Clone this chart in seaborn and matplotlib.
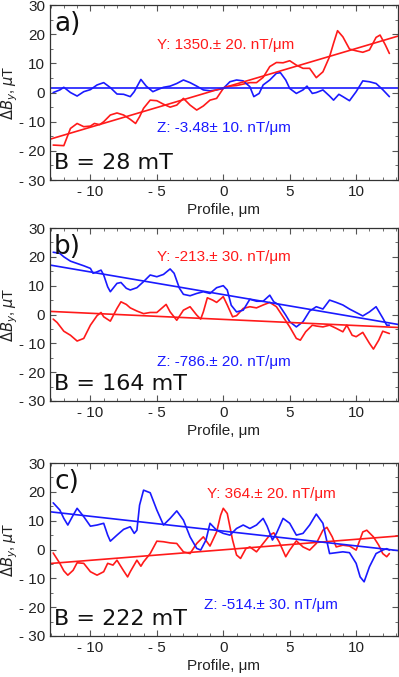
import numpy as np
import pandas as pd
import seaborn as sns
import matplotlib.pyplot as plt
from matplotlib.ticker import MultipleLocator, FuncFormatter

# panel a (B = 28 mT)
a_y_x = [-12.8, -12.0, -11.5, -11.0, -10.5, -10.0, -9.7, -9.3, -9.0, -8.5, -8.0, -7.5, -7.0, -6.6, -6.3, -6.0,
         -5.5, -5.0, -4.5, -4.0, -3.5, -3.0, -2.5, -2.0, -1.5, -1.0, -0.5, 0.0, 0.5, 1.0, 1.5, 2.0, 2.5, 3.0,
         3.5, 4.0, 4.5, 5.0, 5.5, 6.0, 6.5, 7.0, 7.5, 8.0, 8.3, 8.6, 9.0, 9.5, 10.0, 10.5, 11.0, 11.5, 11.8,
         12.2, 12.5]
a_y_v = [-18.0, -18.2, -12.3, -10.6, -11.7, -11.5, -10.6, -11.0, -10.0, -7.7, -7.0, -7.7, -9.2, -10.6, -8.3, -5.4,
         -2.6, -2.8, -4.0, -5.0, -4.3, -2.0, -4.3, -6.0, -4.6, -2.6, -2.0, 1.4, 2.2, 2.4, 2.9, 3.4, 3.4, 5.2,
         8.9, 10.3, 10.2, 10.9, 9.4, 8.3, 8.3, 5.1, 7.1, 12.3, 16.9, 21.2, 19.1, 14.9, 14.3, 13.8, 14.6, 18.9, 19.7,
         16.3, 13.4]
a_z_x = [-12.8, -12.3, -12.0, -11.5, -11.0, -10.5, -10.0, -9.5, -9.0, -8.5, -8.0, -7.5, -7.0, -6.7, -6.2, -5.8,
         -5.3, -5.0, -4.5, -4.0, -3.5, -3.0, -2.5, -2.0, -1.5, -1.0, -0.5, 0.0, 0.5, 1.0, 1.5, 2.0, 2.3, 2.7,
         3.0, 3.5, 4.0, 4.3, 4.7, 5.0, 5.5, 6.0, 6.3, 6.7, 7.0, 7.5, 8.0, 8.3, 8.7, 9.0, 9.5, 10.0, 10.5, 11.0,
         11.5, 12.0, 12.5]
a_z_v = [0.0, 0.9, 1.8, 0.0, -1.2, 0.3, 1.0, 2.6, 3.4, 1.7, -0.5, -0.6, -1.4, 0.3, 4.5, 2.2,
         0.3, 0.9, 1.8, 2.2, 3.1, 4.3, 3.4, 2.2, 0.9, 0.6, 0.9, 1.4, 3.7, 4.3, 4.0, 2.0, -1.4, -0.3,
         2.6, 4.3, 6.6, 6.8, 4.3, 1.4, -0.3, 0.9, 2.2, -0.3, 0.0, 0.9, -1.2, -2.6, -0.6, -1.4, -2.8, 0.3, 4.0, 3.7,
         3.1, 1.0, -1.4]

# panel b (B = 164 mT)
b_y_x = [-12.8, -12.5, -12.0, -11.5, -11.0, -10.5, -10.0, -9.5, -9.2, -9.0, -8.5, -8.0, -7.7, -7.3, -7.0, -6.5,
         -6.0, -5.5, -5.0, -4.5, -4.3, -4.0, -3.5, -3.0, -2.5, -2.0, -1.7, -1.5, -1.2, -0.8, -0.5, 0.0, 0.3, 0.7,
         1.0, 1.5, 2.0, 2.5, 3.0, 3.5, 4.0, 4.5, 5.0, 5.5, 5.8, 6.2, 6.7, 7.0, 7.5, 8.0, 8.5, 9.0, 9.3, 9.7,
         10.0, 10.5, 11.0, 11.3, 11.7, 12.0, 12.5]
b_y_v = [-1.6, -2.8, -5.8, -7.2, -9.2, -8.3, -3.7, -0.4, 0.7, -0.8, -2.3, 2.1, 4.4, 3.5, 2.3, 1.2,
         0.3, 0.7, 0.7, 2.7, 3.5, 0.9, -2.0, 1.5, 2.7, -0.2, -1.6, 0.9, 5.8, 5.0, 4.2, 6.2, 3.3, -0.8,
         -0.4, 2.1, 2.7, 2.3, 3.3, 4.2, 2.7, -0.8, -4.3, -8.3, -8.9, -6.0, -3.7, -4.0, -4.3, -3.7, -4.8, -6.0, -3.7, -7.2,
         -7.7, -6.2, -10.0, -12.0, -8.9, -5.8, -6.6]
b_z_x = [-12.8, -12.3, -12.0, -11.5, -11.0, -10.5, -10.0, -9.8, -9.5, -9.2, -9.0, -8.7, -8.5, -8.0, -7.7, -7.3,
         -7.0, -6.5, -6.0, -5.5, -5.0, -4.5, -4.0, -3.7, -3.3, -3.0, -2.5, -2.0, -1.5, -1.0, -0.5, 0.0, 0.3, 0.6,
         1.0, 1.5, 2.0, 2.5, 3.0, 3.5, 3.8, 4.2, 4.7, 5.0, 5.5, 6.0, 6.5, 7.0, 7.5, 8.0, 8.5, 9.0, 9.5, 10.0,
         10.5, 11.0, 11.5, 12.0, 12.3, 12.5]
b_z_v = [21.6, 21.2, 20.0, 18.5, 17.7, 16.9, 16.0, 14.3, 14.8, 15.4, 13.7, 9.6, 7.9, 10.8, 11.1, 9.1,
         8.5, 9.3, 11.4, 13.7, 13.1, 13.9, 15.8, 14.3, 9.1, 7.0, 6.5, 7.3, 7.9, 7.3, 9.3, 10.0, 8.5, 3.2,
         0.9, 1.5, 5.3, 4.6, 4.6, 6.7, 4.4, 3.3, -0.2, -2.5, -4.3, -2.5, 1.2, 2.7, 1.9, 5.0, 4.2, 3.3, 1.9, 0.7,
         -0.5, 0.9, 2.7, -1.2, -3.7, -3.7]

# panel c (B = 222 mT)
c_y_x = [-12.8, -12.3, -12.0, -11.7, -11.3, -11.0, -10.5, -10.0, -9.5, -9.0, -8.7, -8.3, -8.0, -7.5, -7.2, -7.0,
         -6.5, -6.2, -6.0, -5.5, -5.0, -4.5, -4.0, -3.5, -3.0, -2.5, -2.0, -1.5, -1.0, -0.5, -0.2, 0.0, 0.3, 0.7,
         1.0, 1.3, 1.7, 2.0, 2.5, 3.0, 3.5, 3.8, 4.2, 4.7, 5.0, 5.5, 6.0, 6.5, 7.0, 7.5, 7.8, 8.2, 8.5, 9.0,
         9.5, 10.0, 10.5, 10.8, 11.3, 11.7, 12.0, 12.3, 12.5]
c_y_v = [-1.2, -4.8, -7.4, -8.9, -7.2, -4.6, -4.8, -7.7, -8.9, -7.7, -4.8, -5.4, -3.7, -7.4, -9.5, -7.7,
         -3.7, -5.8, -4.3, -1.4, 2.9, 2.7, 2.3, 2.1, -0.8, -1.4, 2.1, 4.4, 1.2, 6.1, 11.9, 14.3, 12.5, 3.3,
         -1.9, -3.1, 0.3, 0.9, -0.8, 2.1, 5.0, 5.8, 2.7, -2.5, -0.2, 3.0, 0.9, -0.2, 2.1, 6.7, 7.7, 4.4, 0.9, 1.5,
         1.2, -0.2, 6.1, 6.7, 4.4, 1.5, -1.4, -2.5, -1.4]
c_z_x = [-12.8, -12.3, -12.0, -11.7, -11.3, -11.0, -10.5, -10.0, -9.5, -9.0, -8.7, -8.5, -8.0, -7.5, -7.0, -6.7,
         -6.5, -6.3, -6.0, -5.5, -5.0, -4.5, -4.0, -3.5, -3.0, -2.5, -2.0, -1.7, -1.3, -1.0, -0.5, 0.0, 0.5, 1.0,
         1.5, 2.0, 2.5, 3.0, 3.3, 3.7, 4.0, 4.5, 5.0, 5.5, 6.0, 6.5, 7.0, 7.5, 8.0, 8.5, 9.0, 9.5, 10.0, 10.3,
         10.6, 11.0, 11.5, 12.0, 12.3, 12.5]
c_z_v = [16.2, 13.7, 10.8, 8.5, 11.9, 14.3, 11.4, 8.1, 8.5, 9.1, 5.0, 2.9, 5.0, 7.0, 7.9, 5.6,
         6.7, 15.4, 20.6, 19.7, 13.7, 8.5, 10.8, 13.4, 10.2, 4.4, 0.4, -0.2, 3.3, 9.1, 6.7, 5.6, 5.0, 7.3,
         8.5, 7.3, 8.5, 10.8, 8.1, 3.3, 5.6, 10.8, 9.1, 5.0, 5.6, 8.5, 12.3, 9.1, -1.4, -1.1, -0.8, -1.1, -4.8, -9.5,
         -11.2, -6.0, -1.4, -0.2, 0.3, -0.2]

# fitted lines, end points at the frame edges
fit_x = [-13.05, 13.15]
a_y_fit = [-16.0, 19.35]
a_z_fit = [1.4, 1.4]
b_y_fit = [1.08, -4.5]
b_z_fit = [17.16, -3.44]
c_y_fit = [-4.85, 4.69]
c_z_fit = [13.1, -0.36]

y_texts = ["Y: 1350.\u00b1 20. nT/\u03bcm", "Y: -213.\u00b1 30. nT/\u03bcm", "Y: 364.\u00b1 20. nT/\u03bcm"]
z_texts = ["Z: -3.48\u00b1 10. nT/\u03bcm", "Z: -786.\u00b1 20. nT/\u03bcm", "Z: -514.\u00b1 30. nT/\u03bcm"]
y_text_pos = [(-5.0, 16.3), (-5.0, 20.0), (-1.2, 19.1)]
z_text_pos = [(-5.0, -12.1), (-5.0, -16.4), (-1.45, -19.1)]
letters = ["a)", "b)", "c)"]
fields = ["B = 28 mT", "B = 164 mT", "B = 222 mT"]

panels = [
    (a_y_x, a_y_v, a_z_x, a_z_v, a_y_fit, a_z_fit),
    (b_y_x, b_y_v, b_z_x, b_z_v, b_y_fit, b_z_fit),
    (c_y_x, c_y_v, c_z_x, c_z_v, c_y_fit, c_z_fit),
]

sns.set_style("ticks")
plt.rcParams['font.family'] = ['Liberation Sans', 'DejaVu Sans']

RED = '#ff1a1a'
BLUE = '#1a1aff'


def fmt(v, pos):
    v = int(round(v))
    return f"- {abs(v)}" if v < 0 else str(v)


fig = plt.figure(figsize=(3.99, 6.77), dpi=100)
boxes = [(0.125, 0.734, 0.8725, 0.2586), (0.125, 0.4077, 0.8725, 0.2555), (0.125, 0.0606, 0.8725, 0.2554)]

for i, (yx, yv, zx, zv, yfit, zfit) in enumerate(panels):
    ax = fig.add_axes(boxes[i])
    dy = pd.DataFrame({"x": yx, "v": yv})
    dz = pd.DataFrame({"x": zx, "v": zv})
    sns.lineplot(data=dy, x="x", y="v", color=RED, lw=1.2, ax=ax)
    sns.lineplot(data=dz, x="x", y="v", color=BLUE, lw=1.2, ax=ax)
    sns.lineplot(x=fit_x, y=yfit, color=RED, lw=1.2, ax=ax)
    sns.lineplot(x=fit_x, y=zfit, color=BLUE, lw=1.2, ax=ax)

    ax.set_xlim(fit_x[0], fit_x[1])
    ax.set_ylim(-30, 30)
    ax.xaxis.set_major_locator(MultipleLocator(5))
    ax.xaxis.set_minor_locator(MultipleLocator(1))
    ax.yaxis.set_major_locator(MultipleLocator(10))
    ax.yaxis.set_minor_locator(MultipleLocator(5))
    ax.xaxis.set_major_formatter(FuncFormatter(fmt))
    ax.yaxis.set_major_formatter(FuncFormatter(fmt))
    ax.tick_params(which='both', direction='in', top=True, right=True, colors='#555555',
                   labelcolor='#222222', labelsize=11)
    ax.tick_params(which='major', length=4, width=0.8)
    ax.tick_params(which='minor', length=2, width=0.6)
    for s in ax.spines.values():
        s.set_color('#333333')
        s.set_linewidth(0.9)

    ax.set_xlabel("Profile, \u03bcm", fontsize=11, color='#222222', labelpad=3)
    ax.set_ylabel(r"$\Delta B_y$, $\mu$T", fontsize=10.5, color='#222222')
    ax.yaxis.set_label_coords(-0.085, 0.5)

    ax.text(*y_text_pos[i], y_texts[i], color=RED, fontsize=11, va='center', ha='left')
    ax.text(*z_text_pos[i], z_texts[i], color=BLUE, fontsize=11, va='center', ha='left')
    ax.text(0.012, 0.965, letters[i], transform=ax.transAxes, fontsize=19, va='top', ha='left',
            family='DejaVu Sans', color='#111111')
    ax.text(0.012, 0.1, fields[i], transform=ax.transAxes, fontsize=16, va='center', ha='left',
            family='DejaVu Sans', color='#111111')

fig.savefig("out.png", dpi=100)
